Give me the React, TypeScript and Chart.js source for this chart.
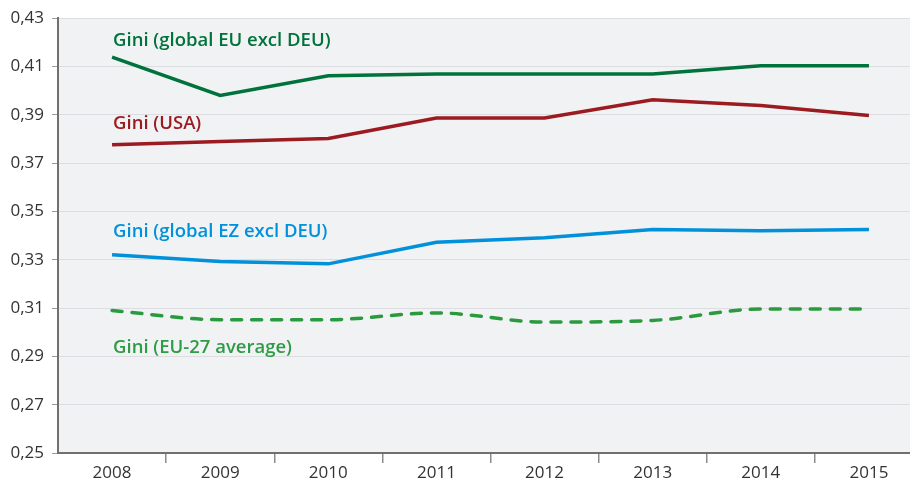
import React, { useEffect, useRef } from "react";
import { Chart, registerables } from "chart.js";

Chart.register(...registerables);

const years = ["2008", "2009", "2010", "2011", "2012", "2013", "2014", "2015"];
const giniEUexDEU = [0.4139, 0.398, 0.4062, 0.4069, 0.4069, 0.4069, 0.4103, 0.4103];
const giniUSA = [0.3776, 0.379, 0.3802, 0.3887, 0.3887, 0.3962, 0.3939, 0.3897];
const giniEZexDEU = [0.3321, 0.3293, 0.3283, 0.3372, 0.3391, 0.3425, 0.342, 0.3425];
const giniEU27 = [0.309, 0.3052, 0.3052, 0.308, 0.3042, 0.3049, 0.3096, 0.3096];

const seriesNames = [
  "Gini (global EU excl DEU)",
  "Gini (USA)",
  "Gini (global EZ excl DEU)",
  "Gini (EU-27 average)",
];
const labelAnchorValues = [0.4208, 0.3862, 0.3415, 0.2935];

const colEU = "#00723b";
const colUSA = "#9b1b21";
const colEZ = "#0091da";
const colEU27 = "#2b9a3e";
const labelColors = [colEU, colUSA, colEZ, "#2e9b45"];

const yMin = 0.25;
const yMax = 0.43;
const yStep = 0.02;

const FONT = "'Open Sans', 'Noto Sans', sans-serif";

export default function App() {
  const ref = useRef<HTMLCanvasElement | null>(null);

  useEffect(() => {
    if (!ref.current) return;

    const bgPlugin = {
      id: "plotBg",
      beforeDraw(chart: any) {
        const { ctx, chartArea } = chart;
        ctx.save();
        ctx.fillStyle = "#f1f2f4";
        ctx.fillRect(chartArea.left, chartArea.top, chartArea.right - chartArea.left, chartArea.bottom - chartArea.top);
        ctx.restore();
      },
    };

    const labelPlugin = {
      id: "seriesLabels",
      afterDatasetsDraw(chart: any) {
        const { ctx } = chart;
        const xs = chart.scales.x;
        const ys = chart.scales.y;
        ctx.save();
        ctx.font = `600 18.5px ${FONT}`;
        ctx.textAlign = "left";
        ctx.textBaseline = "middle";
        seriesNames.forEach((name, i) => {
          ctx.fillStyle = labelColors[i];
          ctx.fillText(name, xs.getPixelForValue(0) + 1, ys.getPixelForValue(labelAnchorValues[i]));
        });
        ctx.restore();
      },
    };

    const chart = new Chart(ref.current, {
      type: "line",
      data: {
        labels: years,
        datasets: [
          {
            label: seriesNames[0],
            data: giniEUexDEU,
            borderColor: colEU,
            borderWidth: 3.5,
            pointRadius: 0,
            tension: 0,
          },
          {
            label: seriesNames[1],
            data: giniUSA,
            borderColor: colUSA,
            borderWidth: 3.5,
            pointRadius: 0,
            tension: 0,
          },
          {
            label: seriesNames[2],
            data: giniEZexDEU,
            borderColor: colEZ,
            borderWidth: 3.5,
            pointRadius: 0,
            tension: 0,
          },
          {
            label: seriesNames[3],
            data: giniEU27,
            borderColor: colEU27,
            borderWidth: 3.5,
            borderDash: [10, 10],
            borderCapStyle: "round",
            pointRadius: 0,
            cubicInterpolationMode: "monotone",
          },
        ],
      },
      options: {
        animation: false,
        responsive: false,
        maintainAspectRatio: false,
        layout: { padding: { top: 18, right: 0, bottom: 0, left: 0 } },
        plugins: {
          legend: { display: false },
          tooltip: { enabled: false },
        },
        scales: {
          x: {
            offset: true,
            afterFit: (s: any) => {
              s.height = 29;
            },
            grid: {
              offset: true,
              drawOnChartArea: false,
              drawTicks: true,
              tickLength: 10,
              tickColor: (c: any) => (c.index === 0 ? "rgba(0,0,0,0)" : "#8c8c8c"),
              lineWidth: 1.5,
            },
            border: { color: "#707070", width: 2 },
            ticks: {
              color: "#333333",
              font: { family: FONT, size: 17 },
              padding: 0,
            },
          },
          y: {
            min: yMin,
            max: yMax,
            afterFit: (s: any) => {
              s.width = 58;
            },
            grid: {
              color: "#dcdde0",
              lineWidth: 1,
              tickLength: 6,
              tickColor: "#9a9a9a",
            },
            border: { color: "#707070", width: 2 },
            ticks: {
              stepSize: yStep,
              color: "#333333",
              font: { family: FONT, size: 17 },
              padding: 8,
              callback: (v: any) => Number(v).toFixed(2).replace(".", ","),
            },
          },
        },
      },
      plugins: [bgPlugin, labelPlugin],
    });

    return () => chart.destroy();
  }, []);

  return (
    <div
      style={{
        position: "fixed",
        left: 0,
        top: 0,
        width: 910,
        height: 482,
        overflow: "hidden",
        background: "#ffffff",
      }}
    >
      <canvas ref={ref} width={923} height={482} style={{ display: "block", width: 923, height: 482 }} />
    </div>
  );
}
